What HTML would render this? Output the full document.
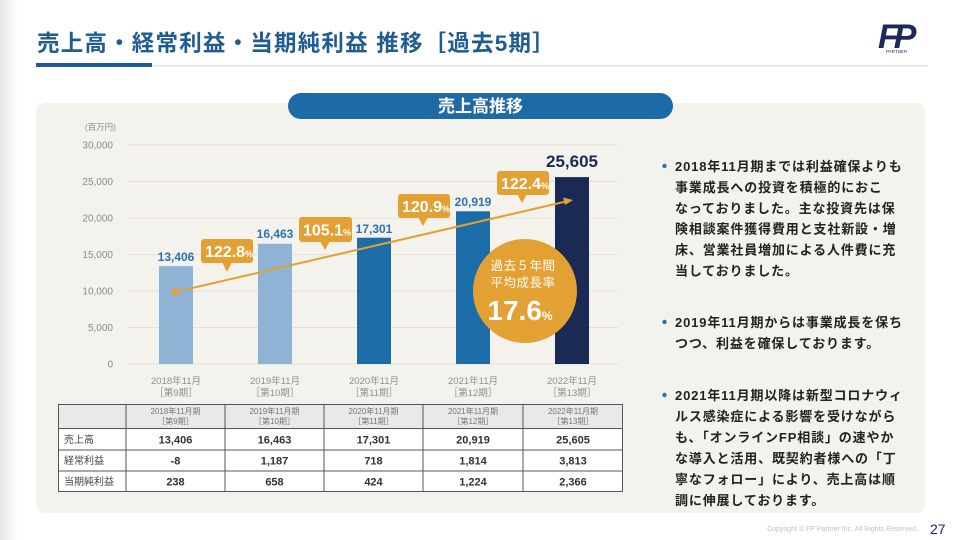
<!DOCTYPE html>
<html><head><meta charset="utf-8">
<style>
html,body{margin:0;padding:0;background:#fff;}
body{width:960px;height:540px;overflow:hidden;position:relative;}
svg{display:block;}
</style></head>
<body>
<svg width="960" height="540" viewBox="0 0 960 540" xmlns="http://www.w3.org/2000/svg" style="font-family:'Liberation Sans','Noto Sans CJK JP',sans-serif;">
<defs>
<linearGradient id="edge" x1="0" x2="1" y1="0" y2="0">
<stop offset="0" stop-color="#e6e6e6"/><stop offset="1" stop-color="#ffffff"/>
</linearGradient>
</defs>
<rect x="0" y="0" width="960" height="540" fill="#fff"/>
<rect x="0" y="0" width="18" height="540" fill="url(#edge)"/>

<!-- Title -->
<text x="37" y="51" font-size="22.5" font-weight="bold" fill="#1e5c93" letter-spacing="1.2">売上高・経常利益・当期純利益 推移［過去5期］</text>
<rect x="36" y="63" width="116" height="4" fill="#1e5c93"/>
<rect x="152" y="65" width="776" height="1.5" fill="#e3e3e3"/>

<!-- Logo -->
<text x="878" y="48" font-size="34" font-weight="bold" font-style="italic" fill="#1b2a5c" font-family="Liberation Sans,sans-serif" letter-spacing="-5">FP</text>
<text x="886" y="53" font-size="4.5" fill="#1b2a5c" font-family="Liberation Sans,sans-serif">PARTNER</text>

<!-- Panel -->
<rect x="36" y="103" width="889" height="410" rx="9" fill="#f4f2ec"/>

<!-- Pill -->
<rect x="288" y="93" width="385" height="26" rx="13" fill="#1e6aa6"/>
<text x="480.5" y="112" font-size="17" font-weight="bold" fill="#fff" text-anchor="middle">売上高推移</text>

<!-- Y axis -->
<text x="116" y="130" font-size="8.5" fill="#8a8a8a" text-anchor="end">(百万円)</text>
<g font-size="10" fill="#8a8a8a" text-anchor="end">
<text x="113" y="148.5">30,000</text>
<text x="113" y="185">25,000</text>
<text x="113" y="221.5">20,000</text>
<text x="113" y="258">15,000</text>
<text x="113" y="294.5">10,000</text>
<text x="113" y="331">5,000</text>
<text x="113" y="367.5">0</text>
</g>
<g stroke="#e4e0d6" stroke-width="1">
<line x1="128" y1="145" x2="618" y2="145"/>
<line x1="128" y1="181.5" x2="618" y2="181.5"/>
<line x1="128" y1="218" x2="618" y2="218"/>
<line x1="128" y1="254.5" x2="618" y2="254.5"/>
<line x1="128" y1="291" x2="618" y2="291"/>
<line x1="128" y1="327.5" x2="618" y2="327.5"/>
<line x1="128" y1="364" x2="618" y2="364"/>
</g>

<!-- Bars -->
<rect x="159" y="266.1" width="34" height="97.9" fill="#8eb3d5"/>
<rect x="258" y="243.8" width="34" height="120.2" fill="#8eb3d5"/>
<rect x="357" y="237.7" width="34" height="126.3" fill="#1c6ca8"/>
<rect x="456" y="211.3" width="34" height="152.7" fill="#1c6ca8"/>
<rect x="555" y="177.1" width="34" height="186.9" fill="#1b2a55"/>

<!-- Value labels -->
<g font-size="12" font-weight="bold" fill="#2a72b3" text-anchor="middle" font-family="Liberation Sans,sans-serif">
<text x="176" y="261">13,406</text>
<text x="275" y="238">16,463</text>
<text x="374" y="233">17,301</text>
<text x="473" y="206">20,919</text>
</g>
<text x="572" y="167" font-size="17" font-weight="bold" fill="#1b2a55" text-anchor="middle" font-family="Liberation Sans,sans-serif">25,605</text>

<!-- X labels -->
<g font-size="9.5" fill="#8f8f8f" text-anchor="middle">
<text x="176" y="384">2018年11月</text><text x="176" y="396">［第9期］</text>
<text x="275" y="384">2019年11月</text><text x="275" y="396">［第10期］</text>
<text x="374" y="384">2020年11月</text><text x="374" y="396">［第11期］</text>
<text x="473" y="384">2021年11月</text><text x="473" y="396">［第12期］</text>
<text x="572" y="384">2022年11月</text><text x="572" y="396">［第13期］</text>
</g>

<!-- Growth line -->
<line x1="175" y1="292" x2="566" y2="201.5" stroke="#e3a033" stroke-width="2"/>
<polygon points="573,200 563,197.5 565,205" fill="#e3a033"/>
<circle cx="175" cy="292" r="3.5" fill="#e3a033"/>

<!-- Callouts -->
<g fill="#e3a033">
<rect x="201" y="239" width="52" height="24" rx="3"/><polygon points="222,262 232,262 227,272"/>
<rect x="299" y="217" width="53" height="25" rx="3"/><polygon points="320,241 330,241 325,250"/>
<rect x="398" y="194" width="52" height="24" rx="3"/><polygon points="418,217 428,217 423,226"/>
<rect x="497" y="171" width="52" height="24" rx="3"/><polygon points="517,194 527,194 522,203"/>
</g>
<g font-weight="bold" fill="#fff" font-family="Liberation Sans,sans-serif">
<text x="205" y="257" font-size="16">122.8<tspan font-size="9">%</tspan></text>
<text x="303" y="235.5" font-size="16">105.1<tspan font-size="9">%</tspan></text>
<text x="402" y="212" font-size="16">120.9<tspan font-size="9">%</tspan></text>
<text x="501" y="189" font-size="16">122.4<tspan font-size="9">%</tspan></text>
</g>

<!-- Circle -->
<circle cx="525" cy="291" r="52" fill="#e3a033"/>
<text x="523" y="270" font-size="12.5" fill="#fff" text-anchor="middle" letter-spacing="0.5">過去５年間</text>
<text x="523" y="287" font-size="12.5" fill="#fff" text-anchor="middle" letter-spacing="0.5">平均成長率</text>
<text x="520" y="320" font-size="28" font-weight="bold" fill="#fff" text-anchor="middle" font-family="Liberation Sans,sans-serif">17.6<tspan font-size="12">%</tspan></text>

<!-- Table -->
<rect x="58" y="404" width="565" height="24" fill="#e9e9ea"/>
<rect x="58" y="428" width="565" height="64" fill="#ffffff"/>
<g stroke="#555" stroke-width="1" fill="none">
<rect x="58.5" y="404.5" width="564" height="87"/>
<line x1="58" y1="428.5" x2="623" y2="428.5"/>
<line x1="58" y1="450" x2="623" y2="450"/>
<line x1="58" y1="471" x2="623" y2="471"/>
<line x1="126" y1="404" x2="126" y2="492"/>
<line x1="225" y1="404" x2="225" y2="492"/>
<line x1="324" y1="404" x2="324" y2="492"/>
<line x1="423" y1="404" x2="423" y2="492"/>
<line x1="523" y1="404" x2="523" y2="492"/>
</g>
<g font-size="8" fill="#777" text-anchor="middle">
<text x="175.5" y="414">2018年11月期</text><text x="175.5" y="424">［第9期］</text>
<text x="274.5" y="414">2019年11月期</text><text x="274.5" y="424">［第10期］</text>
<text x="373.5" y="414">2020年11月期</text><text x="373.5" y="424">［第11期］</text>
<text x="473" y="414">2021年11月期</text><text x="473" y="424">［第12期］</text>
<text x="573" y="414">2022年11月期</text><text x="573" y="424">［第13期］</text>
</g>
<g font-size="10" fill="#444">
<text x="64" y="443">売上高</text>
<text x="64" y="464">経常利益</text>
<text x="64" y="485">当期純利益</text>
</g>
<g font-size="11" font-weight="bold" fill="#333" text-anchor="middle" font-family="Liberation Sans,sans-serif">
<text x="175.5" y="443.5">13,406</text><text x="274.5" y="443.5">16,463</text><text x="373.5" y="443.5">17,301</text><text x="473" y="443.5">20,919</text><text x="573" y="443.5">25,605</text>
<text x="175.5" y="464.5">-8</text><text x="274.5" y="464.5">1,187</text><text x="373.5" y="464.5">718</text><text x="473" y="464.5">1,814</text><text x="573" y="464.5">3,813</text>
<text x="175.5" y="485.5">238</text><text x="274.5" y="485.5">658</text><text x="373.5" y="485.5">424</text><text x="473" y="485.5">1,224</text><text x="573" y="485.5">2,366</text>
</g>

<!-- Right text -->
<g fill="#2a72b3">
<circle cx="664.5" cy="166" r="2.2"/>
<circle cx="664.5" cy="322" r="2.2"/>
<circle cx="664.5" cy="395" r="2.2"/>
</g>
<g font-size="13" font-weight="bold" fill="#222" letter-spacing="0.85">
<text x="675" y="171">2018年11月期までは利益確保よりも</text>
<text x="675" y="192">事業成長への投資を積極的におこ</text>
<text x="675" y="213">なっておりました。主な投資先は保</text>
<text x="675" y="233.5">険相談案件獲得費用と支社新設・増</text>
<text x="675" y="254.5">床、営業社員増加による人件費に充</text>
<text x="675" y="275.5">当しておりました。</text>
<text x="675" y="327">2019年11月期からは事業成長を保ち</text>
<text x="675" y="348">つつ、利益を確保しております。</text>
<text x="675" y="400">2021年11月期以降は新型コロナウィ</text>
<text x="675" y="421">ルス感染症による影響を受けながら</text>
<text x="675" y="442">も、「オンラインFP相談」の速やか</text>
<text x="675" y="463">な導入と活用、既契約者様への「丁</text>
<text x="675" y="484">寧なフォロー」により、売上高は順</text>
<text x="675" y="505">調に伸展しております。</text>
</g>

<!-- Footer -->
<text x="918" y="531" font-size="7" fill="#c0c0c0" text-anchor="end" font-family="Liberation Sans,sans-serif">Copyright © FP Partner Inc. All Rights Reserved.</text>
<text x="930" y="534" font-size="14" fill="#1b2a55" font-family="Liberation Sans,sans-serif">27</text>
</svg>
</body></html>
